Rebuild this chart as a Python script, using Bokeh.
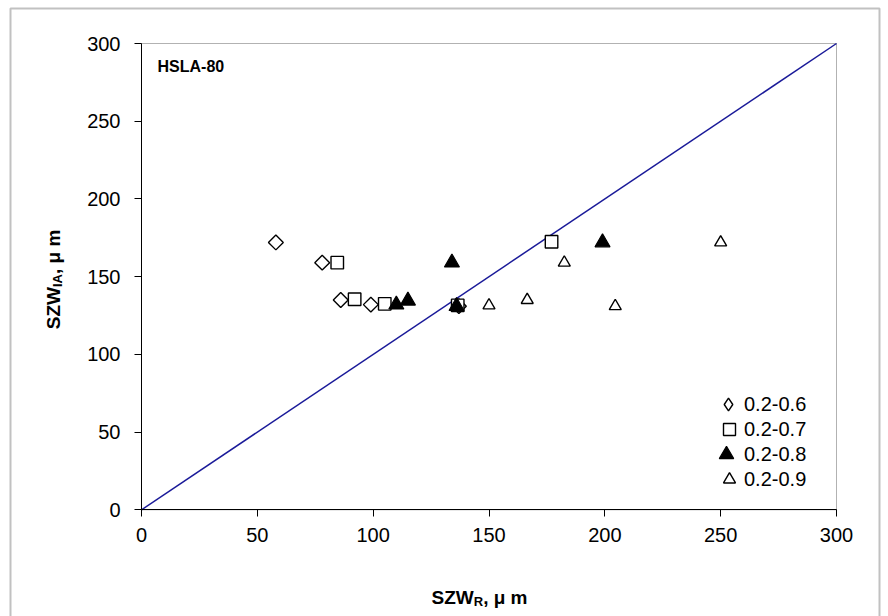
import math
from bokeh.plotting import figure
from bokeh.models import (Range1d, FixedTicker, Label, Legend, LegendItem,
                          BoxAnnotation, LinearAxis)
from bokeh.embed import file_html
from bokeh.resources import INLINE

# ---------------- data ----------------
s06_x = [58, 78, 86, 99, 137]
s06_y = [172, 159, 135, 132, 131]

s07_x = [84.5, 92, 105, 136.5, 177]
s07_y = [159, 135.5, 132.5, 131.5, 172.5]

s08_x = [110, 115, 134, 136, 199]
s08_y = [132, 134.5, 159, 131, 172]

s09_x = [150, 166.5, 182.5, 204.5, 250]
s09_y = [131.5, 135, 159, 131, 172]

series_labels = ["0.2-0.6", "0.2-0.7", "0.2-0.8", "0.2-0.9"]
tick_values = [0, 50, 100, 150, 200, 250, 300]
panel_label = "HSLA-80"

# ---------------- layout constants ----------------
W, H = 888, 616
FL, FR, FT, FB = 141, 836, 43, 509.3   # plot-area edges in pixels
AMIN, AMAX = tick_values[0], tick_values[-1]
kx = (FR - FL) / (AMAX - AMIN)
ky = (FB - FT) / (AMAX - AMIN)


def dx(px):
    return AMIN + (px - FL) / kx


def dy(py):
    return AMIN + (FB - py) / ky


FONT = "Liberation Sans"
TICK_FS = "20px"

p = figure(width=W, height=H, output_backend="svg", toolbar_location=None,
           x_range=Range1d(dx(0), dx(W)), y_range=Range1d(dy(H), dy(0)),
           x_axis_location=None, y_axis_location=None, min_border=0)
p.background_fill_color = "white"
p.border_fill_color = "white"
p.outline_line_color = None
p.xgrid.visible = False
p.ygrid.visible = False

xaxis = LinearAxis(fixed_location=AMIN, bounds=(AMIN, AMAX))
yaxis = LinearAxis(fixed_location=AMIN, bounds=(AMIN, AMAX))
p.add_layout(xaxis, "below")
p.add_layout(yaxis, "left")
for ax in (xaxis, yaxis):
    ax.ticker = FixedTicker(ticks=tick_values)
    ax.minor_tick_line_color = None
    ax.major_tick_in = 0
    ax.major_tick_out = 7
    ax.major_tick_line_color = "black"
    ax.axis_line_color = "black"
    ax.major_label_text_font = FONT
    ax.major_label_text_font_size = TICK_FS
    ax.major_label_text_color = "black"
yaxis.major_label_standoff = 14
xaxis.major_label_standoff = 11

# plot-area box and outer chart border
p.add_layout(BoxAnnotation(left=AMIN, right=AMAX, bottom=AMIN, top=AMAX,
                           fill_alpha=0, line_color="black", line_width=1,
                           level="underlay"))
p.add_layout(BoxAnnotation(left=dx(10), right=dx(879), top=dy(8), bottom=dy(H + 5),
                           fill_alpha=0, line_color="#333333", line_width=2,
                           level="underlay"))

# diagonal y = x across the axis extent
diag = [AMIN, AMAX]
p.line(diag, diag, line_color="#1a1a99", line_width=1.5)

# ---------------- series ----------------
r06 = p.scatter(s06_x, s06_y, marker="square", angle=math.pi / 4, size=10.5,
                fill_color="white", line_color="black", line_width=1.4)
# zero-size diamond twin: invisible in the plot, gives the legend its diamond
r06_leg = p.scatter(s06_x, s06_y, marker="diamond", size=0,
                    fill_color="white", line_color="black", line_width=1.4)
r07 = p.scatter(s07_x, s07_y, marker="square", size=12.5,
                fill_color="white", line_color="black", line_width=1.4)
r08 = p.scatter(s08_x, s08_y, marker="triangle", size=15,
                fill_color="black", line_color="black", line_width=1.2)
r09 = p.scatter(s09_x, s09_y, marker="triangle", size=12,
                fill_color="white", line_color="black", line_width=1.4)

# legend: one single-item legend per row so that the row pitch matches
rows_y = [404, 429, 454, 479]
glyph_box = [32, 30, 36, 30]
label_x = 744
for r, lab, yc, g in zip([r06_leg, r07, r08, r09], series_labels, rows_y, glyph_box):
    lg = Legend(items=[LegendItem(label=lab, renderers=[r])],
                location=(label_x - g, (H - yc) - g / 2),
                glyph_width=g, glyph_height=g, padding=0, margin=0,
                label_standoff=0, label_height=20,
                label_text_font=FONT, label_text_font_size=TICK_FS,
                label_text_color="black",
                border_line_color=None, background_fill_alpha=0)
    p.add_layout(lg)

# ---------------- texts ----------------
p.add_layout(Label(x=dx(157), y=dy(65.7), text=panel_label, text_font=FONT,
                   text_font_size="16px", text_font_style="bold",
                   text_color="black",
                   text_baseline="alphabetic", text_align="left"))

# x-axis title: SZW_R, μ m
f_main, f_sub = 19, 13
w_szw = 2.222 * f_main
w_r = 0.722 * f_sub
w_rest = 2.334 * f_main
x0 = 479 - (w_szw + w_r + w_rest) / 2
base = 597.3
common = dict(text_font=FONT, text_font_style="bold", text_color="black",
              text_baseline="alphabetic", text_align="left")
p.add_layout(Label(x=dx(x0), y=dy(base), text="SZW",
                   text_font_size=f"{f_main}px", **common))
p.add_layout(Label(x=dx(x0 + w_szw), y=dy(base + 4), text="R",
                   text_font_size=f"{f_sub}px", **common))
p.add_layout(Label(x=dx(x0 + w_szw + w_r), y=dy(base), text=", \u03bc m",
                   text_font_size=f"{f_main}px", **common))

# y-axis title: SZW_IA, μ m (rotated)
w_ia = 1.0 * f_sub
ytot = w_szw + w_ia + w_rest
y0 = 279 + ytot / 2
bx = 53
p.add_layout(Label(x=dx(bx), y=dy(y0), text="SZW", angle=math.pi / 2,
                   text_font_size=f"{f_main}px", **common))
p.add_layout(Label(x=dx(bx + 4), y=dy(y0 - w_szw), text="IA", angle=math.pi / 2,
                   text_font_size=f"{f_sub}px", **common))
p.add_layout(Label(x=dx(bx), y=dy(y0 - w_szw - w_ia), text=", \u03bc m",
                   angle=math.pi / 2, text_font_size=f"{f_main}px", **common))

open("out.html", "w").write(file_html(p, INLINE))
